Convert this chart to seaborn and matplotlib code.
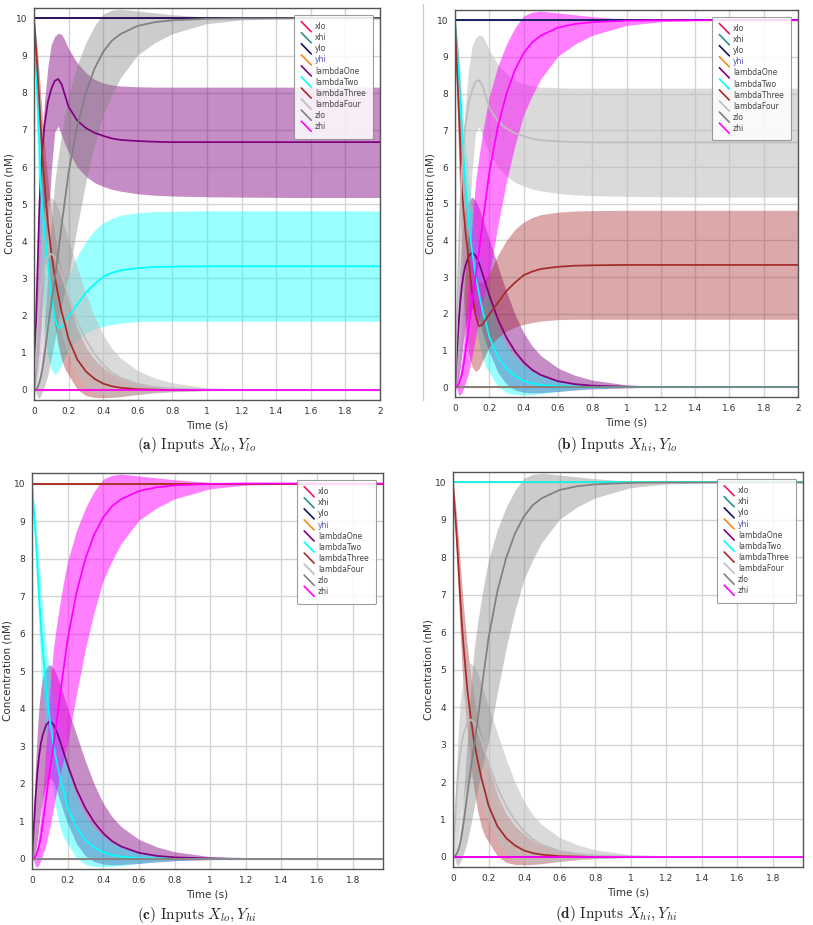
import numpy as np
import pandas as pd
import seaborn as sns
import matplotlib.pyplot as plt
from matplotlib.lines import Line2D
from matplotlib.legend_handler import HandlerBase
from matplotlib.ticker import MultipleLocator, AutoMinorLocator, FuncFormatter

# time grid (s) the curves were read at
T = [0, .01, .02, .03, .04, .05, .06, .08, .1, .12, .14, .16, .18, .2, .25,
     .3, .35, .4, .45, .5, .6, .7, .8, 1.0, 1.2, 1.5, 2.0]

# sigmoid rise 0 -> 10 (zlo / zhi)
rise_mean = [0, .02, .07, .18, .35, .6, .92, 1.65, 2.35, 3.0, 3.7, 4.45, 5.15, 5.85, 7.1,
             8.0, 8.65, 9.1, 9.4, 9.58, 9.8, 9.9, 9.95, 9.99, 10, 10, 10]
rise_lo = [0, -.05, -.2, -.22, -.15, -.02, .1, .4, .85, 1.35, 1.85, 2.3, 2.7, 3.08, 4.4,
           5.6, 6.6, 7.42, 7.95, 8.4, 9.02, 9.35, 9.59, 9.86, 9.96, 10, 10]
rise_hi = [0, .06, .2, .4, .75, 1.15, 1.7, 3.1, 4.5, 5.6, 6.3, 6.9, 7.45, 7.93, 8.75,
           9.35, 9.8, 10.12, 10.22, 10.25, 10.2, 10.15, 10.1, 10.03, 10.01, 10, 10]

# decay 10 -> 0
decay_mean = [10, 9.3, 8.6, 7.8, 7.0, 6.2, 5.6, 4.5, 3.7, 3.05, 2.55, 2.1, 1.75, 1.37, .82,
              .5, .3, .17, .1, .06, .02, .01, 0, 0, 0, 0, 0]
decay_lo = [10, 9.0, 8.0, 7.0, 6.0, 5.1, 4.4, 3.3, 2.5, 1.75, 1.2, .8, .55, .4, .02,
            -.15, -.2, -.21, -.2, -.18, -.12, -.07, -.04, -.01, 0, 0, 0]
decay_hi = [10, 9.6, 9.15, 8.55, 7.9, 7.25, 6.65, 5.65, 4.85, 4.2, 3.65, 3.2, 2.8, 2.4, 1.65,
            1.15, .82, .6, .43, .31, .17, .09, .05, .01, 0, 0, 0]

# transient pulse, peak ~3.7 near 0.1 s
pulse_mean = [0, .85, 1.65, 2.3, 2.75, 3.08, 3.3, 3.57, 3.67, 3.58, 3.38, 3.1, 2.8, 2.5, 1.85,
              1.35, .97, .68, .47, .33, .16, .08, .04, .01, 0, 0, 0]
pulse_lo = [0, 0, .2, .5, .9, 1.3, 1.6, 2.0, 2.15, 2.05, 1.8, 1.5, 1.2, .95, .4,
            .08, -.08, -.14, -.16, -.15, -.12, -.08, -.05, -.02, 0, 0, 0]
pulse_hi = [0, 1.3, 2.5, 3.4, 4.1, 4.55, 4.85, 5.1, 5.18, 5.08, 4.88, 4.62, 4.32, 4.02, 3.3,
            2.6, 1.98, 1.48, 1.12, .86, .52, .32, .19, .06, .02, 0, 0]

# overshoot then settle at 6.67
settle_hi_mean = [0, 1.6, 3.2, 4.8, 5.9, 6.6, 7.1, 7.75, 8.1, 8.32, 8.37, 8.22, 7.92, 7.62, 7.25,
                  7.05, 6.92, 6.84, 6.77, 6.73, 6.7, 6.68, 6.67, 6.67, 6.67, 6.67, 6.67]
settle_hi_lo = [0, .2, .6, 1.1, 1.7, 2.4, 3.1, 4.4, 5.9, 6.95, 7.1, 6.85, 6.6, 6.4, 6.0,
                5.75, 5.58, 5.48, 5.4, 5.35, 5.28, 5.24, 5.22, 5.2, 5.19, 5.18, 5.18]
settle_hi_hi = [0, 1.8, 3.5, 5.0, 6.2, 7.0, 7.7, 8.7, 9.3, 9.52, 9.6, 9.57, 9.4, 9.18, 8.8,
                8.54, 8.36, 8.26, 8.21, 8.18, 8.16, 8.15, 8.15, 8.15, 8.15, 8.15, 8.15]

# dip then settle at 3.33
settle_lo_mean = [10, 8.8, 7.8, 6.7, 5.4, 4.8, 4.3, 3.45, 2.55, 1.95, 1.66, 1.7, 1.85, 1.98, 2.3,
                  2.62, 2.85, 3.05, 3.15, 3.22, 3.28, 3.31, 3.32, 3.33, 3.33, 3.33, 3.33]
settle_lo_lo = [10, 8.0, 6.3, 4.8, 3.5, 2.5, 1.7, .9, .55, .42, .5, .7, .9, 1.1, 1.35,
                1.53, 1.64, 1.71, 1.76, 1.8, 1.84, 1.85, 1.85, 1.85, 1.85, 1.85, 1.85]
settle_lo_hi = [10, 9.6, 9.0, 8.2, 7.3, 6.4, 5.6, 4.6, 3.8, 3.1, 2.85, 2.85, 2.95, 3.1, 3.6,
                4.0, 4.3, 4.5, 4.62, 4.7, 4.77, 4.8, 4.81, 4.82, 4.82, 4.82, 4.82]

SHAPES = {
    'rise': (rise_mean, rise_lo, rise_hi),
    'decay': (decay_mean, decay_lo, decay_hi),
    'pulse': (pulse_mean, pulse_lo, pulse_hi),
    'settle_hi': (settle_hi_mean, settle_hi_lo, settle_hi_hi),
    'settle_lo': (settle_lo_mean, settle_lo_lo, settle_lo_hi),
}

HIGH, LOW = 10.0, 0.0

SPECIES = ['xlo', 'xhi', 'ylo', 'yhi', 'lambdaOne', 'lambdaTwo',
           'lambdaThree', 'lambdaFour', 'zlo', 'zhi']
COLORS = {'xlo': '#e8175d', 'xhi': '#2a9090', 'ylo': '#14145e', 'yhi': '#f28c1c',
          'lambdaOne': '#800080', 'lambdaTwo': '#00ffff', 'lambdaThree': '#a52a2a',
          'lambdaFour': '#bdbdbd', 'zlo': '#808080', 'zhi': '#ff00ff'}
BAND_ALPHA = {'lambdaOne': .45, 'lambdaTwo': .4, 'lambdaThree': .4,
              'lambdaFour': .55, 'zlo': .4, 'zhi': .5}

PANELS = [
    ('a', r'X_{lo}, Y_{lo}', 2.0,
     {'xlo': HIGH, 'xhi': LOW, 'ylo': HIGH, 'yhi': LOW, 'lambdaOne': 'settle_hi',
      'lambdaTwo': 'settle_lo', 'lambdaThree': 'decay', 'lambdaFour': 'pulse',
      'zlo': 'rise', 'zhi': LOW}),
    ('b', r'X_{hi}, Y_{lo}', 2.0,
     {'xlo': LOW, 'xhi': HIGH, 'ylo': HIGH, 'yhi': LOW, 'lambdaOne': 'pulse',
      'lambdaTwo': 'decay', 'lambdaThree': 'settle_lo', 'lambdaFour': 'settle_hi',
      'zlo': LOW, 'zhi': 'rise'}),
    ('c', r'X_{lo}, Y_{hi}', 1.97,
     {'xlo': HIGH, 'xhi': LOW, 'ylo': LOW, 'yhi': HIGH, 'lambdaOne': 'pulse',
      'lambdaTwo': 'decay', 'lambdaThree': HIGH, 'lambdaFour': LOW,
      'zlo': LOW, 'zhi': 'rise'}),
    ('d', r'X_{hi}, Y_{hi}', 1.97,
     {'xlo': LOW, 'xhi': HIGH, 'ylo': LOW, 'yhi': HIGH, 'lambdaOne': LOW,
      'lambdaTwo': HIGH, 'lambdaThree': 'decay', 'lambdaFour': 'pulse',
      'zlo': 'rise', 'zhi': LOW}),
]

# axes boxes in pixels (left, top, right, bottom) and caption centres
W, H = 813, 925
BOXES = [(34, 8, 380, 400), (455, 10, 798, 397), (32, 473, 383, 869), (453, 472, 803, 867)]
CAPTIONS = [(197, 445), (617, 445), (197, 915), (616, 914)]


class SlashHandler(HandlerBase):
    def create_artists(self, legend, orig_handle, xdescent, ydescent,
                       width, height, fontsize, trans):
        ln = Line2D([-xdescent, -xdescent + width],
                    [-ydescent + 1.3 * height, -ydescent - 0.3 * height],
                    color=orig_handle.get_color(), lw=1.2)
        ln.set_transform(trans)
        return [ln]


sns.set_style('white')
plt.rcParams['font.family'] = ['DejaVu Sans']
plt.rcParams['mathtext.fontset'] = 'cm'

fig = plt.figure(figsize=(W / 100, H / 100), dpi=100)

for (tag, inputs, xmax, spec), (l, t, r, b), (cx, cy) in zip(PANELS, BOXES, CAPTIONS):
    ax = fig.add_axes([l / W, 1 - b / H, (r - l) / W, (b - t) / H])

    rows = []
    for s in SPECIES:
        v = spec[s]
        if isinstance(v, str):
            mean, lo, hi = SHAPES[v]
            ax.fill_between(T, lo, hi, color=COLORS[s], alpha=BAND_ALPHA[s],
                            lw=0, zorder=1)
        else:
            mean = np.full(len(T), v)
        rows.append(pd.DataFrame({'time': T, 'conc': mean, 'species': s}))
    df = pd.concat(rows, ignore_index=True)

    sns.lineplot(data=df, x='time', y='conc', hue='species', hue_order=SPECIES,
                 palette=COLORS, legend=False, errorbar=None, linewidth=1.25, ax=ax)

    ax.set_xlim(0, xmax)
    ax.set_ylim(-0.27, 10.28)
    ax.xaxis.set_major_locator(MultipleLocator(0.2))
    ax.yaxis.set_major_locator(MultipleLocator(1))
    ax.xaxis.set_minor_locator(AutoMinorLocator(5))
    ax.yaxis.set_minor_locator(AutoMinorLocator(5))
    ax.xaxis.set_major_formatter(FuncFormatter(lambda v, _: f'{v:g}'))
    ax.yaxis.set_major_formatter(FuncFormatter(lambda v, _: f'{v:g}'))
    ax.grid(True, which='major', color='#d4d4d4', lw=1.0)
    ax.set_axisbelow(True)
    ax.tick_params(which='both', direction='out', color='#555555', width=0.8,
                   labelsize=6.5, labelcolor='#333333', pad=2)
    ax.tick_params(which='major', length=3)
    ax.tick_params(which='minor', length=2.2)
    for sp in ax.spines.values():
        sp.set_color('#555555')
        sp.set_linewidth(1.0)
    ax.set_xlabel('Time (s)', fontsize=7.5, color='#333333', labelpad=3.5)
    ax.set_ylabel('Concentration (nM)', fontsize=7.5, color='#333333', labelpad=0.5)

    handles = [Line2D([], [], color=COLORS[s]) for s in SPECIES]
    leg = ax.legend(handles, SPECIES, loc='upper right', bbox_to_anchor=(0.981, 0.983),
                    borderaxespad=0, fontsize=5.5, labelspacing=0.27, handlelength=1.3,
                    handleheight=0.9, handletextpad=0.5, borderpad=1.0, frameon=True,
                    fancybox=True, framealpha=0.85, edgecolor='#8c8c8c',
                    handler_map={Line2D: SlashHandler()})
    leg.get_frame().set_linewidth(0.8)
    for txt, s in zip(leg.get_texts(), SPECIES):
        txt.set_color('#5050b8' if s == 'yhi' else '#444444')

    fig.text(cx / W, 1 - cy / H, r'$\mathbf{(' + tag + r')}\ \mathrm{Inputs}\ ' + inputs + '$',
             ha='center', va='center', fontsize=11)

# thin divider left over from the page layout
fig.add_artist(Line2D([423 / W, 423 / W], [1 - 4 / H, 1 - 400 / H],
                      color='#c8c8c8', lw=0.8))

fig.savefig('out.png', dpi=100)
